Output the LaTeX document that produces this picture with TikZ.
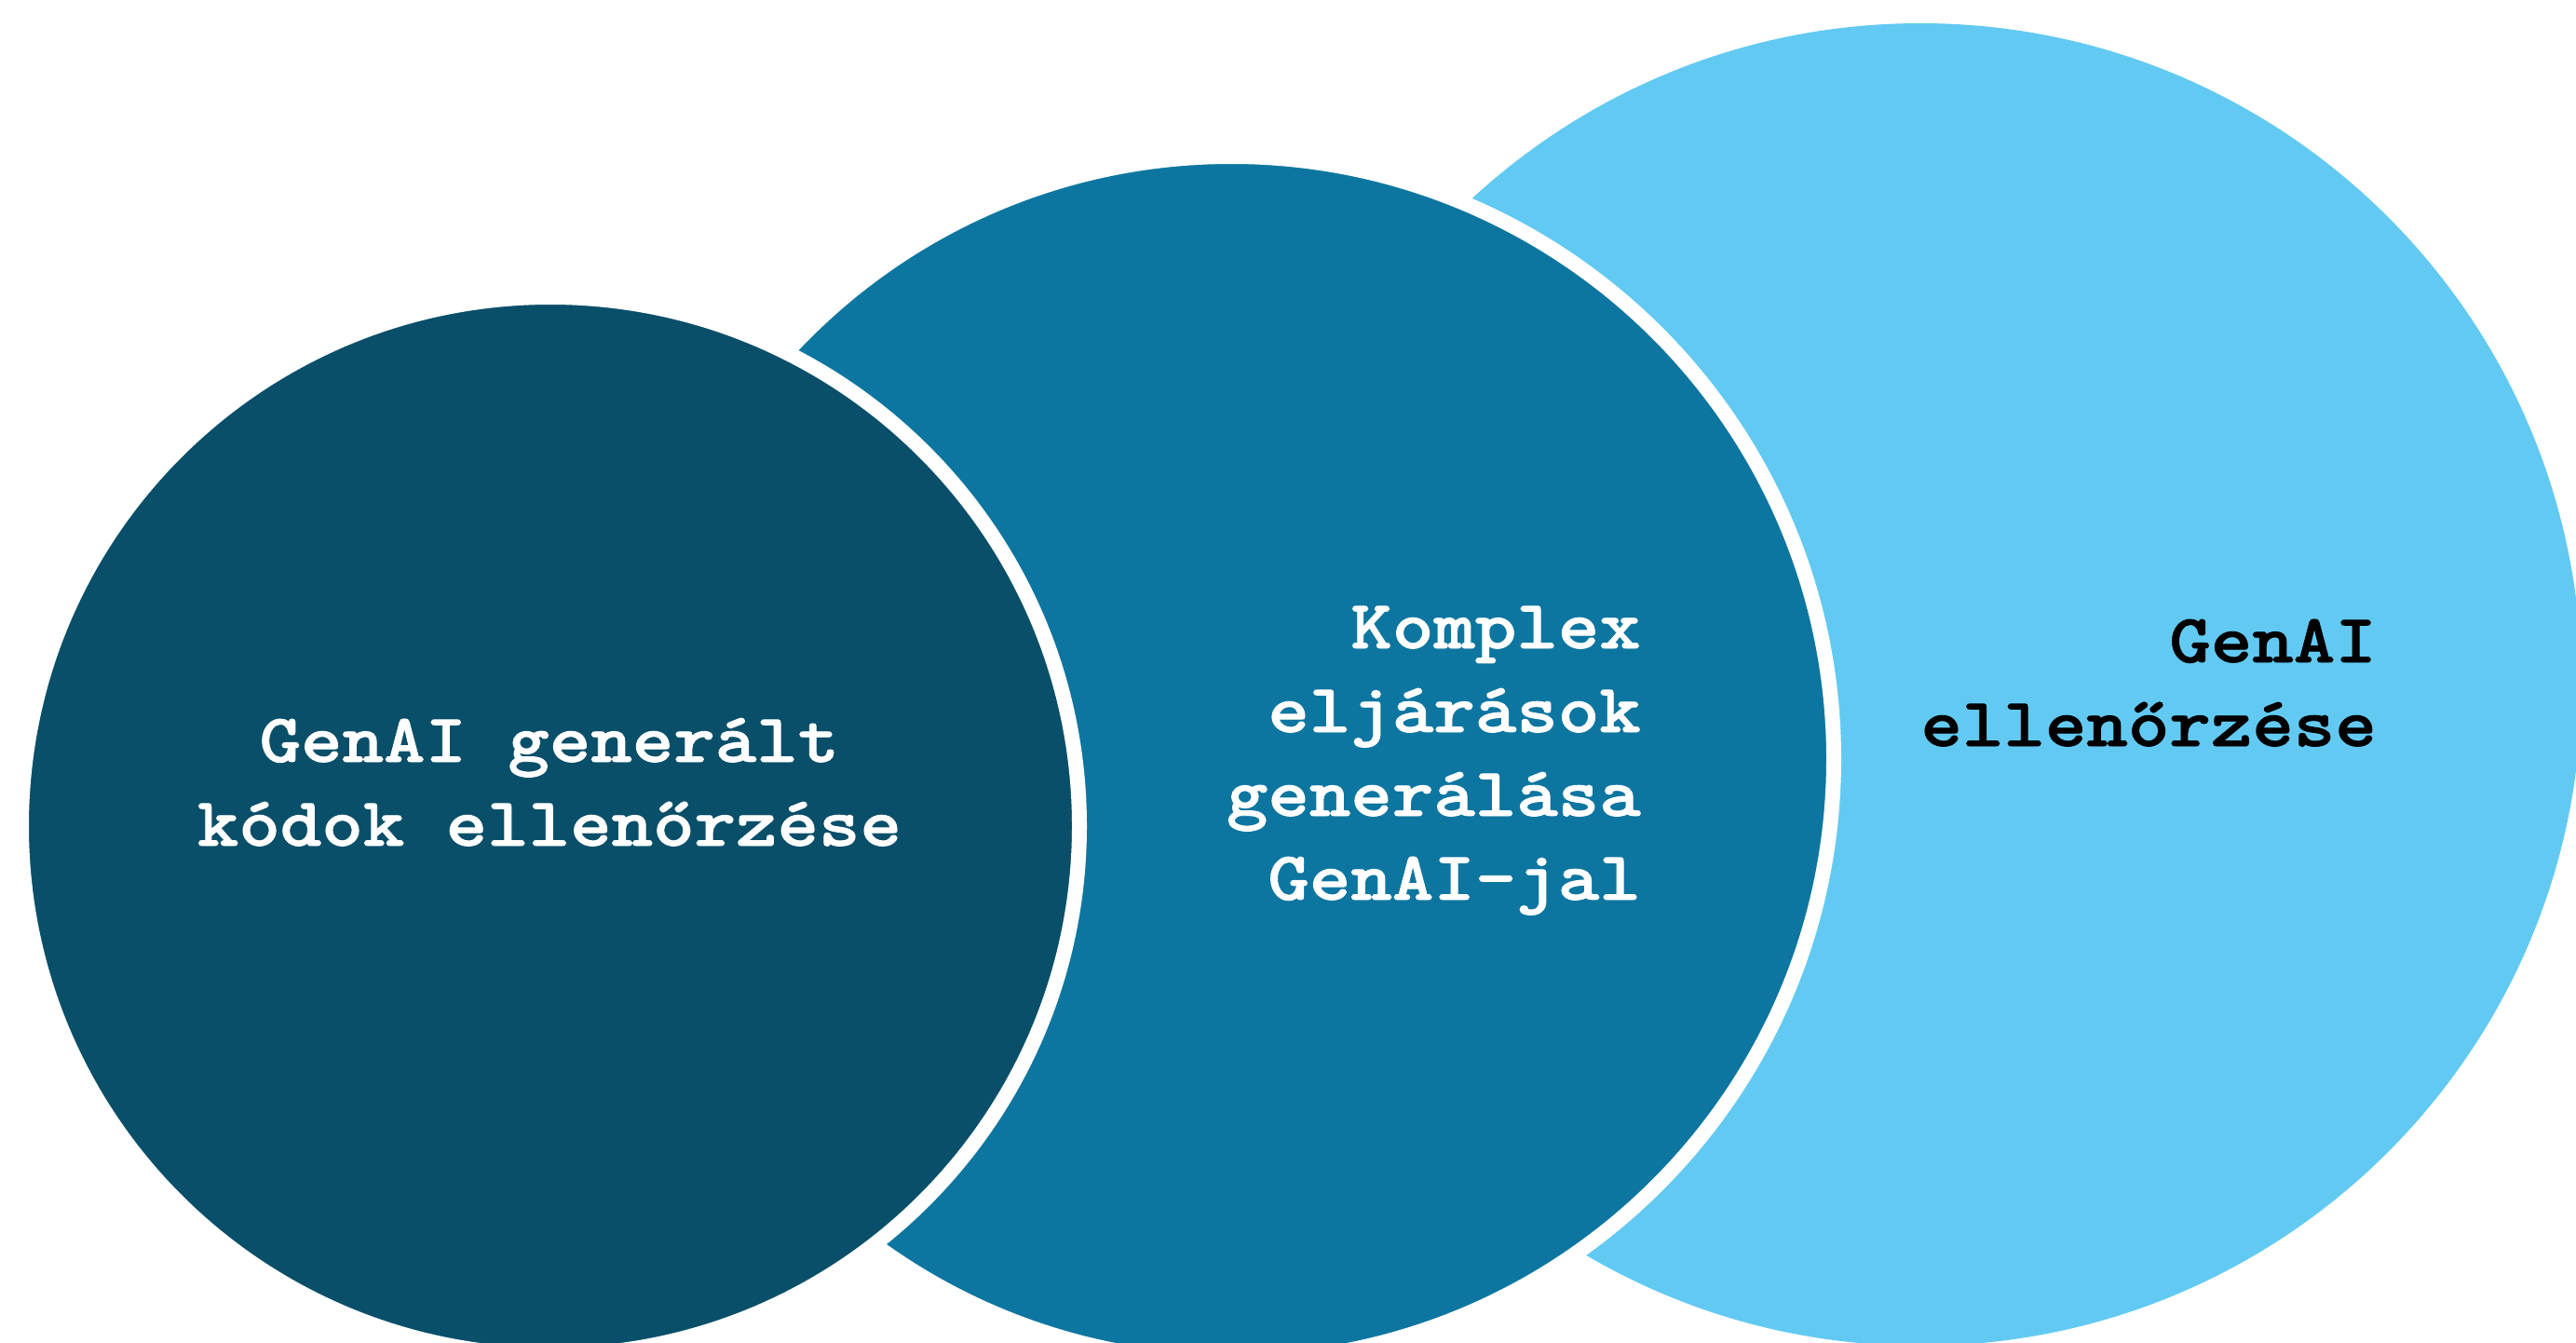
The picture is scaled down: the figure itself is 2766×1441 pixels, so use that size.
\documentclass[tikz,border=0pt]{standalone}
\usepackage{fontspec}
\newfontfamily\labelfont{lmmonolt10-bold.otf}[FakeStretch=1.145,FakeBold=1.2]
\definecolor{darkblue}{HTML}{0A4F69}
\definecolor{midblue}{HTML}{0D76A0}
\definecolor{lightblue}{HTML}{62CAF2}
\begin{document}
\begin{tikzpicture}[x=1pt,y=-1pt,
  disc/.style={circle, inner sep=0pt, draw=white, line width=16pt},
  labeltext/.style={inner sep=0pt, font=\labelfont\fontsize{74}{90}\selectfont}]
\useasboundingbox (0,0) rectangle (2766,1441);
% three overlapping discs, back to front
\node[disc, draw=none, fill=lightblue, minimum size=1420pt] (c3) at (2062,735) {};
\node[disc, fill=midblue, minimum size=1294pt] (c2) at (1322,815) {};
\node[disc, fill=darkblue, minimum size=1136pt] (c1) at (591,887) {};
% labels
\node[labeltext, text=white, anchor=base] (t1) at (590,818)
  {\begin{tabular}[t]{@{}c@{}}GenAI generált\\kódok ellenőrzése\end{tabular}};
\node[labeltext, text=white, anchor=base east] (t2) at (1762,696)
  {\begin{tabular}[t]{@{}r@{}}Komplex\\eljárások\\generálása\\GenAI-jal\end{tabular}};
\node[labeltext, text=black, anchor=base east] (t3) at (2552,711)
  {\begin{tabular}[t]{@{}r@{}}GenAI\\ellenőrzése\end{tabular}};
\end{tikzpicture}
\end{document}
